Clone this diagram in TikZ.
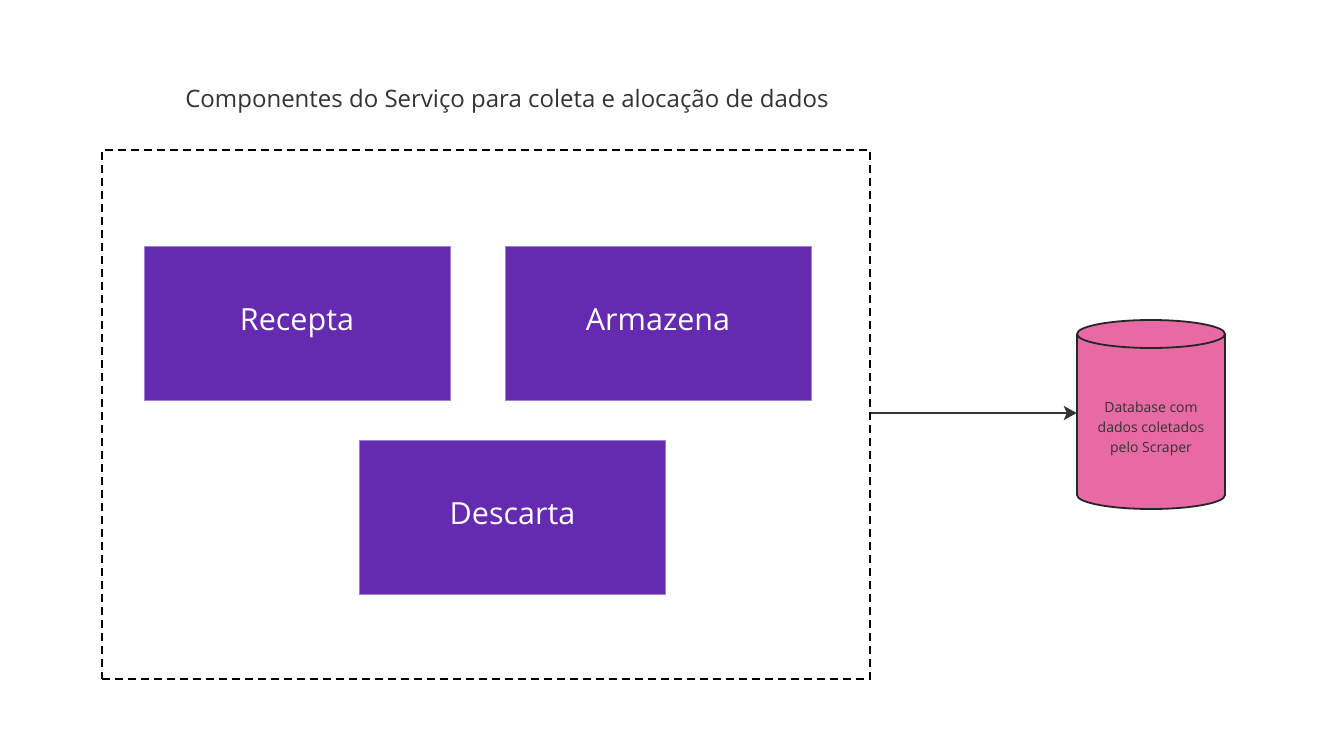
\documentclass[tikz,border=0pt]{standalone}
\usepackage{fontspec}
\setmainfont{Open Sans}
\usepackage{tikz}
\usetikzlibrary{arrows.meta}

\definecolor{boxpurple}{RGB}{100,43,177}
\definecolor{dbpink}{RGB}{232,106,164}
\definecolor{linegray}{RGB}{51,51,51}

\begin{document}
\begin{tikzpicture}[x=1pt,y=1pt,yscale=-1,xscale=1,
    compbox/.style={fill=boxpurple,draw=boxpurple!60!white,line width=0.6pt,minimum width=306,minimum height=154,text=white,font=\fontsize{30.5}{36}\selectfont},
    ]
    \useasboundingbox (0,0) rectangle (1328,752);
    %Title
    \node (title) at (507,101) {\fontsize{24}{28}\selectfont\color{linegray}Componentes do Serviço para coleta e alocação de dados};
    %Shape: Dashed frame
    \node [draw=black,line width=1.5pt,dash pattern=on 8pt off 5pt,minimum width=768,minimum height=529] (frame) at (486,414.5) {};
    %Shape: Components
    \node [compbox] (recepta) at (297,323) {\strut Recepta};
    \node [compbox] (armazena) at (658,323) {\strut Armazena};
    \node [compbox] (descarta) at (512.5,517.5) {\strut Descarta};
    %Shape: Can
    \draw [fill=dbpink,draw=black!85,line width=1.8pt] (1077,334) -- (1077,495) arc (180:0:74 and 14) -- (1225,334) arc (0:-180:74 and 14) -- cycle ;
    \draw [draw=black!85,line width=1.8pt] (1077,334) arc (180:0:74 and 14) ;
    \node [minimum width=148,minimum height=189] (db) at (1151,413) {};
    \node [align=center,text=linegray,font=\fontsize{14}{20}\selectfont] (dblabel) at (1151,429) {Database com\\dados coletados\\pelo Scraper};
    %Connector
    \draw [-{Stealth[length=13pt,width=14pt,inset=3pt]},color=linegray,line width=2pt] (frame.east |- db.west) -- (db.west) ;
\end{tikzpicture}
\end{document}
